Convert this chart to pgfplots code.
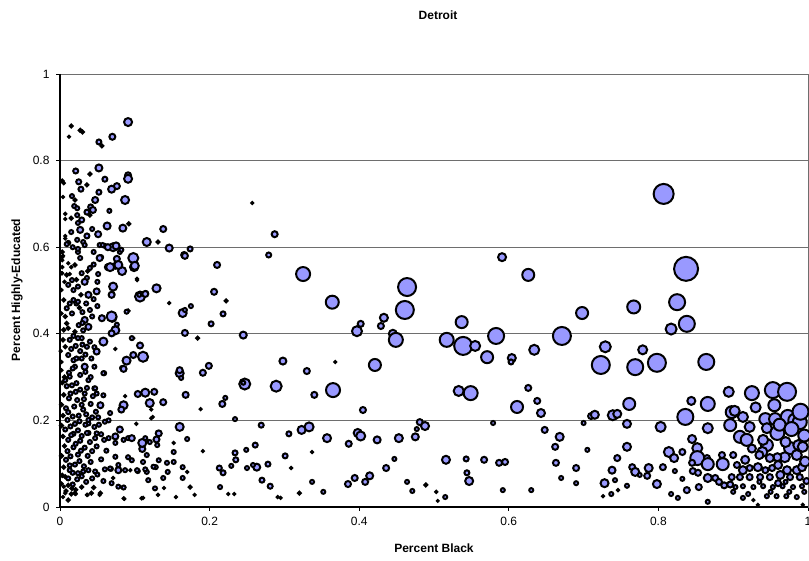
\documentclass[border=0pt]{standalone}
\usepackage{pgfplots}
\usepackage{pgfplotstable}
\usepackage{fontspec}
\setmainfont{Liberation Sans}
\pgfplotsset{compat=1.18}
\definecolor{bubble}{HTML}{9999FF}
\definecolor{gridc}{HTML}{6E6E6E}
\pgfplotstableread{
x y r
0.015 0.880 2.5
0.012 0.855 2
0.027 0.870 2.5
0.030 0.866 2.5
0.052 0.843 3.5
0.056 0.834 2.5
0.070 0.855 4
0.091 0.889 5
0.021 0.776 3.5
0.052 0.783 4.5
0.040 0.769 2.5
0.025 0.751 3.5
0.003 0.753 2.5
0.005 0.748 2
0.036 0.744 2.5
0.028 0.734 3.5
0.060 0.757 3.5
0.076 0.741 4
0.069 0.734 4.5
0.091 0.766 4
0.091 0.758 5
0.052 0.727 3.5
0.016 0.718 3
0.004 0.716 2
0.020 0.709 2.5
0.047 0.709 4
0.087 0.709 5
0.019 0.695 3
0.023 0.690 3
0.041 0.693 3.5
0.044 0.686 4
0.036 0.681 3.5
0.066 0.684 3
0.007 0.677 2
0.007 0.665 2
0.015 0.667 2.5
0.023 0.674 3
0.029 0.663 3.5
0.024 0.656 3
0.040 0.674 2.5
0.063 0.649 4.5
0.084 0.644 4.5
0.092 0.654 2.5
0.027 0.640 4
0.015 0.635 3
0.007 0.626 2
0.007 0.620 2
0.043 0.642 3
0.036 0.626 3.5
0.051 0.630 4
0.023 0.617 3
0.011 0.610 3
0.031 0.612 3
0.053 0.605 3
0.060 0.603 3
0.071 0.600 5
0.075 0.603 4.5
0.017 0.600 3
0.024 0.589 3
0.003 0.589 2.5
0.004 0.580 2
0.045 0.589 3
0.055 0.577 3
0.076 0.573 4
0.080 0.589 3
0.098 0.575 6
0.116 0.612 5
0.131 0.612 2.5
0.138 0.642 4
0.146 0.598 4.5
0.174 0.596 3.5
0.166 0.582 4
0.257 0.702 2
0.287 0.630 4
0.279 0.582 3.5
0.210 0.559 4
0.206 0.497 4
0.222 0.476 2.5
0.218 0.446 3.5
0.202 0.423 3.5
0.245 0.397 4.5
0.325 0.538 8
0.364 0.473 7.5
0.397 0.406 6
0.402 0.423 4
0.433 0.437 5
0.429 0.418 4
0.464 0.508 10
0.461 0.455 10
0.445 0.400 5
0.449 0.386 8
0.537 0.427 7
0.517 0.386 8
0.539 0.372 10
0.555 0.372 6
0.583 0.395 9
0.591 0.577 5
0.626 0.536 7
0.698 0.448 7
0.767 0.462 7.5
0.807 0.723 11
0.837 0.550 13
0.825 0.473 9
0.838 0.423 9
0.817 0.411 6.5
0.571 0.346 7
0.604 0.344 5
0.603 0.335 3.5
0.634 0.363 6
0.671 0.395 10
0.729 0.370 6.5
0.723 0.328 10
0.769 0.323 9
0.779 0.363 5.5
0.798 0.333 10
0.864 0.335 9
0.894 0.266 6
0.925 0.263 8
0.953 0.270 9
0.972 0.266 10
0.761 0.238 7
0.739 0.212 6
0.745 0.215 5
0.758 0.192 5
0.844 0.245 5
0.866 0.238 8
0.836 0.208 9
0.803 0.185 6
0.866 0.182 6
0.758 0.139 5
0.745 0.113 4
0.738 0.085 4.5
0.728 0.055 5
0.742 0.062 3
0.765 0.092 4
0.769 0.081 5
0.775 0.074 3
0.787 0.090 5
0.785 0.072 4
0.798 0.053 5
0.758 0.049 3
0.746 0.039 2
0.737 0.030 3
0.726 0.025 2
0.806 0.092 4
0.814 0.127 6
0.821 0.113 5
0.832 0.127 4
0.822 0.083 3
0.817 0.030 3
0.826 0.021 3
0.832 0.065 3
0.838 0.039 4
0.845 0.157 5
0.852 0.136 6
0.852 0.113 8
0.845 0.102 4
0.846 0.083 4
0.853 0.079 4
0.865 0.113 4
0.866 0.099 7
0.866 0.067 5
0.854 0.046 4
0.866 0.012 3
0.876 0.067 4
0.885 0.120 4
0.886 0.099 7
0.881 0.058 4
0.888 0.050 4
0.896 0.052 4
0.898 0.219 7
0.902 0.222 6
0.913 0.208 6
0.896 0.189 7
0.922 0.185 6
0.909 0.162 7
0.918 0.155 7
0.943 0.203 7
0.956 0.203 7
0.973 0.208 8
0.983 0.200 8
0.989 0.196 8
0.959 0.171 8
0.945 0.182 6
0.945 0.143 7
0.940 0.155 6
0.939 0.127 6
0.976 0.136 7
0.969 0.115 6
0.985 0.120 6
0.987 0.143 6
0.993 0.139 6
0.959 0.115 5
0.949 0.113 5
0.960 0.097 5
0.916 0.109 5
0.900 0.120 4
0.905 0.097 4
0.913 0.085 5
0.922 0.090 4
0.933 0.092 5
0.943 0.085 4
0.952 0.090 4
0.972 0.085 5
0.985 0.085 5
0.992 0.092 5
0.898 0.069 4
0.909 0.069 4
0.922 0.069 4
0.936 0.069 4
0.949 0.069 4
0.963 0.074 5
0.976 0.069 4
0.989 0.069 4
0.903 0.046 3
0.913 0.048 3
0.927 0.046 3
0.940 0.048 3
0.953 0.046 3
0.966 0.048 3
0.980 0.046 3
0.992 0.048 3
0.900 0.035 3
0.913 0.021 3
0.927 0.016 2
0.933 0.005 2
0.945 0.025 3
0.958 0.025 3
0.971 0.025 3
0.985 0.023 3
0.993 0.005 2
0.962 0.190 7
0.978 0.180 8
0.995 0.165 7
0.930 0.230 6
0.955 0.235 7
0.990 0.220 9
0.970 0.150 6
0.996 0.105 6
0.935 0.120 5
0.925 0.135 5
0.998 0.060 4
0.960 0.055 4
0.920 0.030 3
0.950 0.035 3
0.975 0.035 3
0.995 0.035 3
0.935 0.058 3
0.970 0.058 3
0.199 0.326 4
0.191 0.310 4
0.298 0.337 4.5
0.368 0.335 2
0.421 0.328 7
0.330 0.314 4
0.247 0.284 6.5
0.245 0.287 3
0.289 0.279 6.5
0.365 0.270 8
0.340 0.259 4
0.533 0.268 6
0.549 0.263 8
0.221 0.252 3
0.217 0.238 4
0.188 0.226 2
0.405 0.224 4
0.234 0.203 3
0.269 0.189 3.5
0.306 0.169 3.5
0.323 0.178 5
0.333 0.185 5.5
0.357 0.159 5
0.386 0.146 4
0.398 0.171 5
0.402 0.164 5.5
0.424 0.155 4.5
0.453 0.159 5
0.475 0.162 4.5
0.481 0.196 4
0.488 0.187 5
0.477 0.180 3
0.579 0.194 3
0.191 0.129 2
0.234 0.125 3.5
0.235 0.109 3.5
0.249 0.132 3
0.261 0.143 3.5
0.213 0.090 3.5
0.218 0.079 3.5
0.229 0.095 3
0.250 0.090 3
0.263 0.092 4.5
0.258 0.097 3
0.278 0.099 3.5
0.301 0.118 3.5
0.337 0.127 2
0.309 0.090 2
0.270 0.062 3.5
0.281 0.048 3.5
0.214 0.046 3
0.225 0.030 2
0.233 0.030 2
0.291 0.023 2
0.295 0.021 2
0.320 0.032 2.5
0.337 0.058 3
0.352 0.035 3
0.385 0.053 4
0.394 0.067 4
0.408 0.058 4
0.414 0.072 4.5
0.436 0.090 4
0.447 0.111 3
0.464 0.058 3
0.471 0.037 3
0.489 0.051 2.5
0.503 0.035 2
0.505 0.014 1.8
0.515 0.023 3
0.516 0.109 5
0.543 0.111 3.5
0.567 0.109 4
0.587 0.102 4
0.544 0.079 3.5
0.547 0.060 5
0.611 0.231 7
0.638 0.245 4
0.643 0.217 5
0.626 0.275 4
0.668 0.162 5
0.662 0.139 4
0.663 0.102 4
0.670 0.067 3
0.700 0.194 3
0.648 0.178 4
0.595 0.104 4
0.592 0.039 3
0.630 0.039 3
0.690 0.090 4
0.705 0.132 3
0.710 0.210 4
0.715 0.213 5
0.690 0.055 3
0.009 0.607 3
0.024 0.596 3
0.033 0.605 3
0.057 0.605 3
0.064 0.600 4
0.082 0.594 3
0.003 0.577 2
0.003 0.570 2
0.011 0.563 2
0.015 0.554 2
0.020 0.559 2.5
0.027 0.575 3
0.040 0.552 3
0.053 0.575 4
0.064 0.554 4
0.074 0.557 4
0.083 0.545 5
0.099 0.554 5
0.003 0.554 2
0.003 0.540 2
0.013 0.538 2
0.036 0.529 3
0.051 0.538 3
0.078 0.559 5
0.067 0.554 5
0.100 0.557 5
0.167 0.580 4
0.130 0.506 4
0.103 0.527 2
0.115 0.494 3
0.107 0.485 4
0.070 0.492 3
0.146 0.471 2
0.164 0.448 5
0.167 0.455 3
0.175 0.464 3
0.167 0.402 4
0.184 0.390 2.5
0.091 0.453 2.5
0.070 0.437 5
0.056 0.437 3
0.074 0.411 4
0.098 0.390 2
0.107 0.372 3
0.112 0.346 5
0.088 0.339 4
0.083 0.321 3
0.074 0.365 2
0.059 0.309 3
0.160 0.309 5
0.160 0.316 4
0.162 0.298 3
0.104 0.261 4
0.126 0.266 4
0.138 0.242 4
0.168 0.259 4
0.124 0.208 2
0.160 0.185 5
0.170 0.157 3
0.131 0.171 3
0.130 0.143 3
0.102 0.192 2
0.080 0.178 3
0.074 0.148 3
0.067 0.217 3
0.110 0.134 4
0.116 0.120 3
0.152 0.148 2
0.118 0.152 2
0.152 0.127 3
0.128 0.092 3
0.143 0.102 3
0.152 0.104 3
0.144 0.081 3
0.164 0.067 3
0.170 0.081 2
0.116 0.081 3
0.104 0.083 3
0.094 0.085 2
0.078 0.085 4
0.068 0.088 3
0.138 0.067 3
0.139 0.044 2
0.155 0.023 2
0.174 0.046 2.5
0.180 0.028 2
0.131 0.028 2
0.111 0.021 2
0.086 0.019 2
0.071 0.067 2
0.086 0.046 2
0.053 0.028 2
0.037 0.028 2
0.021 0.030 2
0.164 0.092 3
0.091 0.159 3
0.091 0.115 3
0.033 0.520 4
0.038 0.490 4
0.049 0.498 4
0.071 0.509 5
0.069 0.490 4
0.103 0.524 2
0.129 0.505 5
0.107 0.486 6
0.106 0.490 3
0.114 0.492 4
0.050 0.464 3
0.089 0.451 3
0.069 0.440 6
0.056 0.436 4
0.076 0.421 3
0.074 0.408 5
0.069 0.401 4
0.096 0.390 3
0.107 0.373 4
0.111 0.347 6
0.089 0.338 5
0.085 0.319 4
0.098 0.351 4
0.058 0.309 3
0.046 0.324 3
0.042 0.343 3
0.049 0.359 4
0.046 0.369 3
0.058 0.382 5
0.040 0.382 3
0.029 0.390 3
0.024 0.390 3
0.020 0.405 2.5
0.011 0.413 2.5
0.009 0.424 2.5
0.007 0.440 2.5
0.016 0.447 3
0.033 0.432 4
0.038 0.416 4
0.031 0.408 3
0.022 0.470 3
0.024 0.474 3
0.018 0.478 3
0.013 0.470 3
0.009 0.459 3
0.005 0.478 2.5
0.002 0.447 2
0.005 0.409 2.5
0.004 0.386 2.5
0.013 0.386 3
0.007 0.370 2.5
0.011 0.351 3
0.018 0.339 3
0.022 0.343 3
0.029 0.343 3
0.020 0.324 3
0.033 0.324 4
0.038 0.293 3
0.013 0.301 3
0.007 0.293 3
0.022 0.286 3
0.046 0.274 3
0.002 0.335 2
0.002 0.316 2
0.002 0.540 2
0.009 0.536 2.5
0.016 0.524 3
0.011 0.513 3
0.002 0.501 2
0.018 0.501 3
0.024 0.509 3
0.114 0.264 5
0.120 0.240 5
0.085 0.235 5
0.082 0.225 4
0.054 0.235 4
0.058 0.258 3
0.049 0.262 3
0.047 0.274 3
0.087 0.256 2
0.122 0.225 2
0.122 0.205 2
0.080 0.179 4
0.051 0.207 3
0.060 0.197 3
0.065 0.200 3
0.038 0.193 3
0.049 0.170 3
0.038 0.171 3
0.047 0.159 3
0.059 0.155 3
0.065 0.159 3
0.074 0.163 4
0.085 0.155 3
0.096 0.159 4
0.110 0.148 5
0.129 0.156 4
0.132 0.170 4
0.120 0.150 3
0.114 0.159 3
0.074 0.116 3
0.078 0.097 3
0.096 0.108 3
0.111 0.104 3
0.125 0.093 3
0.087 0.085 3
0.067 0.089 3
0.060 0.087 3
0.047 0.082 3
0.038 0.085 3
0.031 0.082 3
0.024 0.078 3
0.013 0.085 3
0.007 0.070 2.5
0.005 0.047 2
0.011 0.050 2.5
0.016 0.043 2.5
0.007 0.032 2
0.020 0.032 2.5
0.036 0.028 2
0.042 0.032 2.5
0.054 0.032 2.5
0.069 0.055 3
0.078 0.047 3
0.085 0.045 3
0.085 0.020 2
0.109 0.020 2
0.118 0.062 3
0.127 0.043 3
0.103 0.085 3
0.114 0.087 3
0.132 0.108 3
0.003 0.287 2.5
0.009 0.279 3
0.016 0.281 3
0.021 0.266 3
0.027 0.271 3
0.033 0.262 3
0.036 0.275 3
0.044 0.256 3
0.005 0.259 2.5
0.012 0.251 3
0.014 0.262 3
0.023 0.247 3
0.029 0.236 3
0.032 0.249 3
0.041 0.238 3
0.002 0.236 2.5
0.008 0.228 3
0.011 0.219 3
0.019 0.232 3
0.025 0.211 3
0.031 0.225 3
0.035 0.214 3
0.043 0.207 3
0.004 0.211 2.5
0.010 0.201 3
0.017 0.209 3
0.020 0.192 3
0.026 0.198 3
0.034 0.190 3
0.038 0.201 3
0.046 0.185 3
0.002 0.188 2.5
0.007 0.179 3
0.014 0.186 3
0.018 0.169 3
0.024 0.177 3
0.029 0.164 3
0.036 0.171 3
0.004 0.163 2.5
0.011 0.155 3
0.015 0.166 3
0.021 0.146 3
0.027 0.153 3
0.033 0.137 3
0.040 0.150 3
0.006 0.141 2.5
0.010 0.129 3
0.018 0.138 3
0.024 0.121 3
0.028 0.130 3
0.037 0.118 3
0.043 0.129 3
0.002 0.118 2.5
0.008 0.109 3
0.014 0.117 3
0.020 0.098 3
0.026 0.106 3
0.032 0.094 3
0.041 0.104 3
0.005 0.092 2.5
0.013 0.096 3
0.017 0.079 3
0.023 0.064 3
0.029 0.071 3
0.035 0.058 3
0.043 0.066 3
0.003 0.073 2.5
0.011 0.066 3
0.017 0.052 3
0.021 0.040 2.5
0.029 0.046 2.5
0.008 0.037 2.5
0.015 0.030 2.5
0.004 0.023 2
0.011 0.016 2.5
0.002 0.054 2
0.048 0.220 3
0.052 0.190 3
0.055 0.168 3
0.049 0.140 3
0.055 0.110 3
0.050 0.075 3
0.045 0.045 2.5
0.058 0.060 3
0.062 0.130 3
0.006 0.300 2.5
0.012 0.310 3
0.017 0.320 3
0.027 0.305 3
0.034 0.312 3
0.041 0.300 3
0.001 0.360 2
0.015 0.365 3
0.021 0.372 3
0.027 0.360 3
0.034 0.352 3
0.030 0.375 3
0.036 0.370 3
0.018 0.395 3
0.025 0.420 3
0.030 0.425 3
0.043 0.440 3
0.040 0.455 3
0.030 0.450 3
0.026 0.460 2.5
0.035 0.470 3
0.045 0.480 3
0.028 0.490 2.5
0.022 0.525 2.5
0.029 0.540 3
0.037 0.545 2.5
0.045 0.560 3
0.006 0.520 2
0.050 0.520 3
}\datatable
\begin{document}
\begin{tikzpicture}
\useasboundingbox (0pt,0pt) rectangle (809pt,560pt);
\begin{axis}[
  at={(60pt,53pt)}, anchor=south west,
  width=748pt, height=433pt, scale only axis,
  xmin=0, xmax=1, ymin=0, ymax=1,
  xtick={0,0.2,0.4,0.6,0.8,1}, ytick={0,0.2,0.4,0.6,0.8,1},
  ymajorgrids, grid style={draw=gridc, line width=0.9pt},
  axis line style={draw=gridc, line width=0.9pt},
  tick align=outside, major tick length=4pt,
  tick style={draw=black, line width=0.9pt},
  xtick pos=bottom, ytick pos=left,
  ticklabel style={font=\fontsize{12}{14}\selectfont},
  /pgf/number format/assume math mode=true,
  xticklabel style={yshift=-3pt},
  yticklabel style={xshift=-3pt},
  clip=false,
]
\addplot+[only marks, mark=*, line width=2pt,
  mark options={solid, draw=black, fill=bubble, line width=2pt},
  visualization depends on={\thisrow{r} \as \rad},
  scatter, point meta=explicit,
  scatter/use mapped color={draw=black, fill=bubble},
  scatter/@pre marker code/.append code={\pgfsetlinewidth{2pt}\pgfmathsetlength{\pgfplotmarksize}{\rad-1.0}},
] table[x=x, y=y, meta=r] {\datatable};
\draw[black, line width=1.8pt] (axis cs:0,1) -- (axis cs:0,0) -- (axis cs:1,0);
\end{axis}
\node[font=\bfseries\fontsize{12}{14}\selectfont] at (438pt,545pt) {Detroit};
\node[font=\bfseries\fontsize{12}{14}\selectfont] at (434pt,12pt) {Percent Black};
\node[font=\bfseries\fontsize{12}{14}\selectfont, rotate=90] at (17pt,270pt) {Percent Highly-Educated};
\end{tikzpicture}
\end{document}
